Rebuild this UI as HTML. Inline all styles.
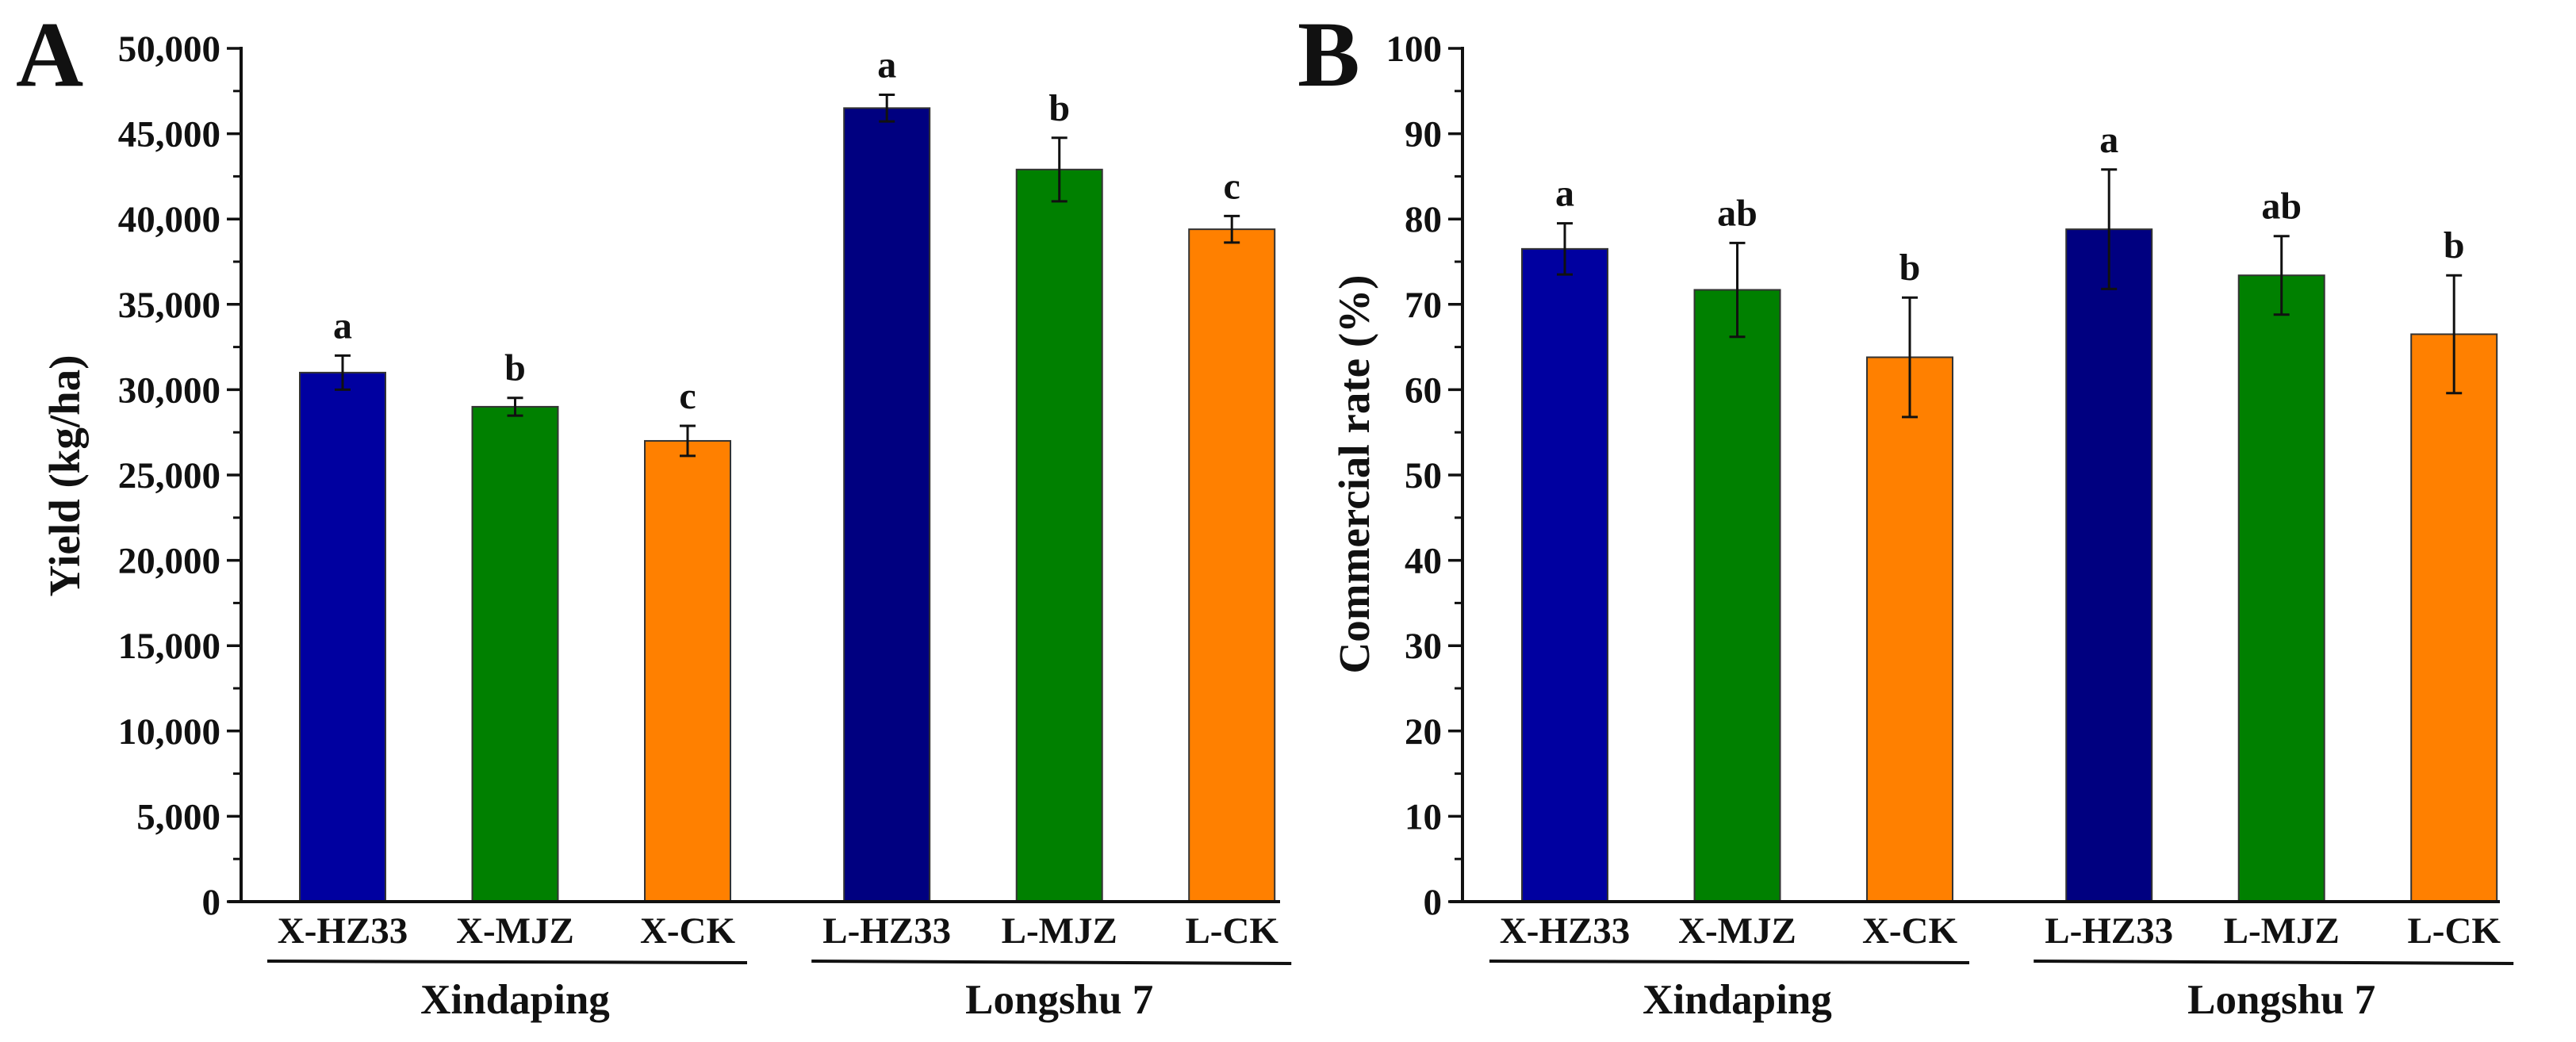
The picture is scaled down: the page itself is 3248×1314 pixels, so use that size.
<!DOCTYPE html>
<html><head><meta charset="utf-8"><style>
html,body{margin:0;padding:0;background:#fff;}
svg{display:block;font-family:"Liberation Serif",serif;font-weight:bold;}
</style></head><body>
<svg id="chart" width="3248" height="1314" viewBox="0 0 3248 1314" xmlns="http://www.w3.org/2000/svg"></svg>
<script>
const categories = ["X-HZ33","X-MJZ","X-CK","L-HZ33","L-MJZ","L-CK"];
const groups = ["Xindaping","Longshu 7"];
const yieldValues = [31000,29000,27000,46500,42900,39400];
const yieldErrors = [1000,520,880,780,1860,780];
const yieldLetters = ["a","b","c","a","b","c"];
const yieldTicks = [0,5000,10000,15000,20000,25000,30000,35000,40000,45000,50000];
const rateValues = [76.5,71.7,63.8,78.8,73.4,66.5];
const rateErrors = [3,5.5,7,7,4.6,6.9];
const rateLetters = ["a","ab","b","a","ab","b"];
const rateTicks = [0,10,20,30,40,50,60,70,80,90,100];

const colors = ["#0000a0","#008000","#ff8000","#000080","#008000","#ff8000"];
const slot = [0,1,2,3.155,4.155,5.155];
const NS = "http://www.w3.org/2000/svg";
const svg = document.getElementById("chart");
function el(tag, attrs, parent){
  const e = document.createElementNS(NS, tag);
  for (const k in attrs) e.setAttribute(k, attrs[k]);
  (parent||svg).appendChild(e);
  return e;
}
function fmt(v){ return v.toLocaleString("en-US"); }

function panel(cfg){
  const g = el("g", {});
  
  
  const y0 = 1137, yTop = 61;
  const yMax = cfg.ticks[cfg.ticks.length-1];
  const ys = v => y0 - (v / yMax) * (y0 - yTop);
  const xs = i => cfg.firstCenter + slot[i] * 217.5;
  // minor ticks
  for (let k = 0; k < cfg.ticks.length - 1; k++){
    const mv = (cfg.ticks[k] + cfg.ticks[k+1]) / 2;
    const t = el("line", {x1:cfg.axisX-10, x2:cfg.axisX, y1:ys(mv), y2:ys(mv), stroke:"#111", "stroke-width":3}, g);
    
    
  }
  cfg.ticks.forEach(v => {
    const t = el("line", {x1:cfg.axisX-18, x2:cfg.axisX, y1:ys(v), y2:ys(v), stroke:"#111", "stroke-width":3.5}, g);
    
    
    const lb = el("text", {x:cfg.axisX-26, y:ys(v)+16, "text-anchor":"end", "font-size":47, fill:"#111"}, g);
    lb.textContent = cfg.fmt(v);
    
    
  });
  // bars
  cfg.values.forEach((v, i) => {
    const cx = xs(i);
    const b = el("rect", {x:cx-54, y:ys(v), width:108, height:y0-ys(v), fill:colors[i], stroke:"#333", "stroke-width":2}, g);
    
    
    const e = cfg.errors[i];
    const eg = el("g", {stroke:"#111", "stroke-width":3}, g);
    
    
    el("line", {x1:cx, x2:cx, y1:ys(v+e), y2:ys(v-e)}, eg);
    el("line", {x1:cx-10, x2:cx+10, y1:ys(v+e), y2:ys(v+e)}, eg);
    el("line", {x1:cx-10, x2:cx+10, y1:ys(v-e), y2:ys(v-e)}, eg);
    const lt = el("text", {x:cx, y:ys(v+e)-22, "text-anchor":"middle", "font-size":48, fill:"#111"}, g);
    lt.textContent = cfg.letters[i];
    
    
    const xl = el("text", {x:cx, y:1189, "text-anchor":"middle", "font-size":47, fill:"#111"}, g);
    xl.textContent = categories[i];
    
    
  });
  // axes
  const ya = el("line", {x1:cfg.axisX, x2:cfg.axisX, y1:yTop-2, y2:y0+2, stroke:"#111", "stroke-width":4}, g);
  
  
  const xa = el("line", {x1:cfg.axisX-16, x2:cfg.axisEnd, y1:y0, y2:y0, stroke:"#111", "stroke-width":4}, g);
  
  
  // group lines
  [[0,2],[3,5]].forEach((r, gi) => {
    const x1 = xs(r[0]) - 95, x2 = xs(r[1]) + 75;
    const gl = el("line", {x1:x1, x2:x2, y1:1212, y2:1212+(gi?3:2), stroke:"#111", "stroke-width":4}, g);
    
    
    const gt = el("text", {x:(xs(r[0])+xs(r[1]))/2, y:1278, "text-anchor":"middle", "font-size":53, fill:"#111"}, g);
    gt.textContent = groups[gi];
    
    
  });
  const yt = el("text", {x:0, y:0, "text-anchor":"middle", "font-size":55, fill:"#111", transform:"translate(" + cfg.titleX + "," + cfg.titleY + ") rotate(-90)"}, g);
  yt.textContent = cfg.title;
  
  
  const pl = el("text", {x:cfg.letterX, y:108, "font-size":118, fill:"#111"}, g);
  pl.textContent = cfg.panelLetter;
  
  
}

panel({name:"yield-chart", axisX:304, axisEnd:1614, firstCenter:432, ticks:yieldTicks, values:yieldValues, errors:yieldErrors, letters:yieldLetters, fmt:fmt, title:"Yield (kg/ha)", titleX:100, titleY:600, panelLetter:"A", letterX:20});
panel({name:"commercial-rate-chart", axisX:1844, axisEnd:3152, firstCenter:1973, ticks:rateTicks, values:rateValues, errors:rateErrors, letters:rateLetters, fmt:v=>String(v), title:"Commercial rate (%)", titleX:1726, titleY:598, panelLetter:"B", letterX:1636});
</script>
</body></html>
